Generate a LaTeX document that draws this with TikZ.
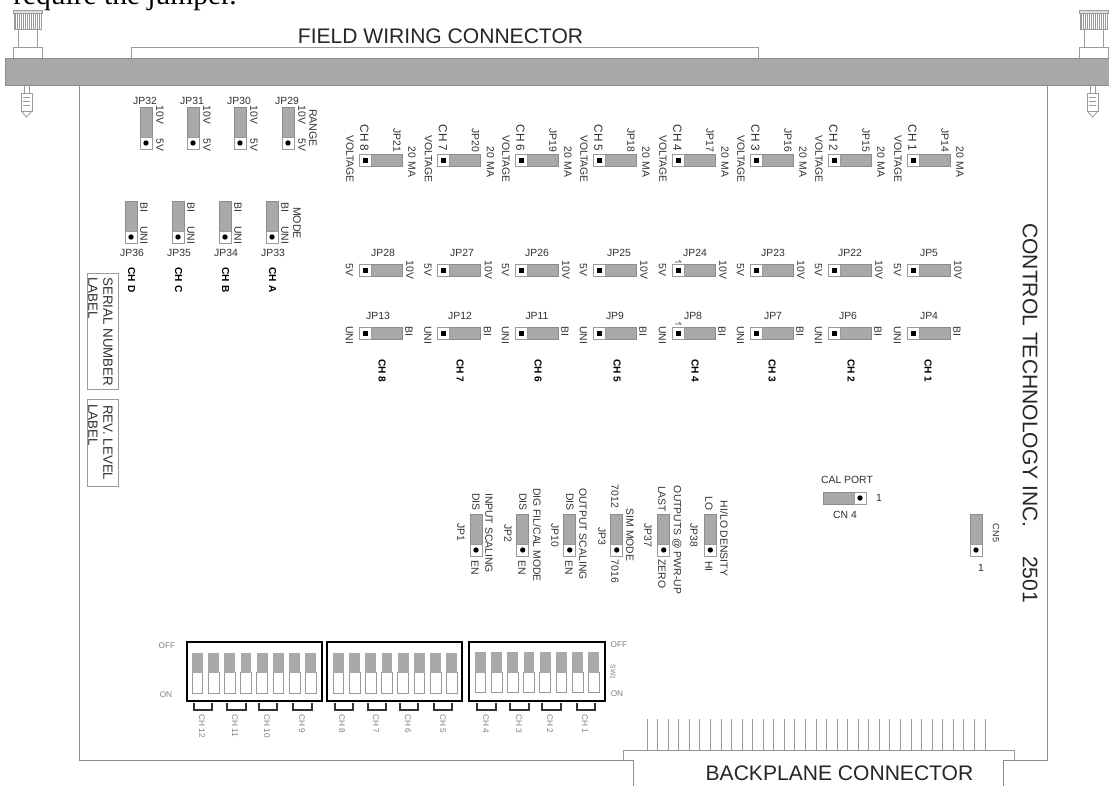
\documentclass[tikz,border=0pt]{standalone}
\usepackage{fontspec}
\setmainfont{Liberation Sans}
\newfontfamily\serifface{Liberation Serif}
\definecolor{bargray}{HTML}{A8A8A8}
\definecolor{jgray}{HTML}{A9A9A9}
\definecolor{edgegray}{HTML}{8C8C8C}
\definecolor{linegray}{HTML}{9A9A9A}
\definecolor{inkdark}{HTML}{303030}
\definecolor{faint}{HTML}{808080}
\tikzset{
  lab/.style={font=\fontsize{7.8}{8}\selectfont,text=inkdark,inner sep=0pt},
  rlab/.style={lab,rotate=-90},
  chlab/.style={lab,font=\fontsize{8.8}{9}\selectfont},
  chbold/.style={rlab,font=\fontsize{7.6}{8}\bfseries\selectfont,text=black},
  big/.style={font=\fontsize{15.8}{16}\selectfont,text=black!85,inner sep=0pt},
  midlab/.style={rlab,font=\fontsize{10}{10.5}\selectfont,align=left},
  diptext/.style={inner sep=0pt,text=faint,font=\fontsize{6.2}{7}\selectfont},
  board/.style={draw=edgegray,line width=0.7pt},
  thin/.style={draw=linegray,line width=0.6pt},
  jfill/.style={fill=jgray,draw=edgegray,line width=0.5pt},
  jwhite/.style={fill=white,draw=linegray,line width=0.6pt},
  dip/.style={draw=black,line width=1.8pt,fill=white},
  bracketline/.style={draw=black!80,line width=0.9pt}
}
% horizontal jumper with square pin at the left
\newcommand{\hjump}[2]{%
  \path[jfill] (#1,#2) rectangle (#1+43,#2+12);
  \path[jwhite] (#1,#2) rectangle (#1+12,#2+12);
  \fill[black] (#1+3.5,#2+3.5) rectangle (#1+8.5,#2+8.5);}
% vertical jumper with round pin at the bottom
\newcommand{\vjump}[3]{%
  \path[jfill] (#1,#2) rectangle (#1+12,#2+#3);
  \path[jwhite] (#1,#2+#3-12) rectangle (#1+12,#2+#3);
  \fill[black] (#1+6,#2+#3-6) circle (2pt);}
\newcommand{\thumbscrew}[1]{%
  \begin{scope}[shift={(#1,0)}]
    \path[thin] (13,47) rectangle (42,58);
    \path[thin] (18,29) -- (18,47) (37,29) -- (37,47);
    \path[draw=linegray,line width=0.5pt,fill=black!12] (13,10) rectangle (42,13);
    \path[draw=linegray,line width=0.5pt,fill=white] (14,13) rectangle (41,29);
    \foreach \h in {15,17,...,39} {\draw[linegray,line width=0.5pt] (\h,13) -- (\h,29);}
    \path[thin] (24,85) -- (24,93) (29,85) -- (29,93);
    \path[thin] (21,93) rectangle (32,111);
    \path[thin] (21,111) -- (26.5,117) -- (32,111);
    \foreach \h in {97,101,105} {\draw[linegray,line width=0.5pt] (23,\h) -- (30,\h);}
  \end{scope}}
\begin{document}
\begin{tikzpicture}[x=0.75pt,y=-0.75pt]
\clip (0,0) rectangle (1109,786);
\fill[white] (0,0) rectangle (1109,786);

% clipped sentence at the very top
\node[anchor=base west,inner sep=0pt,font=\serifface\fontsize{22.1}{24}\selectfont,text=black] (topline) at (13,4.5) {require the jumper.};

% board outline
\path[board] (79,85) -- (79,760) -- (633,760) -- (633,786);
\path[board] (1047,85) -- (1047,760) -- (1003,760) -- (1003,786);

% connectors
\path[thin] (131,58) -- (131,47) -- (758,47) -- (758,58);
\node[big] (fieldlabel) at (440.5,36) {FIELD WIRING CONNECTOR};
\path[thin,fill=white] (623,760) -- (623,750) -- (1014,750) -- (1014,760);
\foreach \n in {0,...,32} {\draw[linegray,line width=0.6pt] (647+\n*10.56,719) -- (647+\n*10.56,750);}
\node[big] (backlabel) at (839.5,773) {BACKPLANE CONNECTOR};

% top bar and thumbscrews
\thumbscrew{0}
\thumbscrew{1066}
\path[fill=bargray,draw=edgegray,line width=0.5pt] (5,58) rectangle (1112,85);

% company label
\node[big,rotate=-90,anchor=west] (company) at (1030,223) {CONTROL TECHNOLOGY INC.};
\node[big,rotate=-90,anchor=west] (model) at (1030,556) {2501};

% range jumpers
\foreach \x/\j in {140/32,187/31,234/30,282/29} {
  \vjump{\x}{107}{42}
  \node[lab] at (\x+5,101) {JP\j};
  \node[rlab] at (\x+20,115) {10V};
  \node[rlab] at (\x+20,145) {5V};
}
\node[midlab,font=\fontsize{8}{8.5}\selectfont] (rangelabel) at (313,128) {RANGE};

% mode jumpers
\foreach \x/\j/\c in {125/36/D,172/35/C,219/34/B,266/33/A} {
  \vjump{\x}{201}{42}
  \node[lab] at (\x+7,253) {JP\j};
  \node[rlab] at (\x+19,207) {BI};
  \node[rlab] at (\x+19,235) {UNI};
  \node[chbold] at (\x+6.5,280) {CH \c};
}
\node[midlab,font=\fontsize{8}{8.5}\selectfont] (modelabel) at (297,223) {MODE};

% label boxes
\path[thin] (87,273) rectangle (118,389);
\node[midlab,anchor=west] (serial) at (108,277) {SERIAL NUMBER};
\node[midlab,anchor=west] (seriallab) at (93,277) {LABEL};
\path[thin] (87,399) rectangle (118,486);
\node[midlab,anchor=west] (rev) at (108,405) {REV. LEVEL};
\node[midlab,anchor=west] (revlab) at (93,404) {LABEL};

% current/voltage jumpers
\foreach \x/\c/\j in {359/8/21,437.5/7/20,515/6/19,593/5/18,672/4/17,750/3/16,828/2/15,907/1/14} {
  \hjump{\x}{154}
  \node[chlab,rotate=-90] at (\x+5.5,138) {CH \c};
  \node[rlab] at (\x-9,159) {VOLTAGE};
  \node[rlab] at (\x+38,140) {JP\j};
  \node[rlab] at (\x+53,162) {20 MA};
}
% 5V/10V jumpers
\foreach \x/\j/\l in {359/28/383,437.5/27/462,515/26/537,593/25/619,672/24/695,750/23/773,828/22/850,907/5/929} {
  \hjump{\x}{264}
  \node[lab] at (\l,253) {JP\j};
  \node[rlab] at (\x-9.5,270) {5V};
  \node[rlab] at (\x+51,270) {10V};
}
% UNI/BI jumpers
\foreach \x/\j/\l/\c/\k in {359/13/378/8/382,437.5/12/460/7/460,515/11/537/6/538,593/9/615/5/617,672/8/693/4/695,750/7/773/3/772,828/6/848/2/851,907/4/929/1/928} {
  \hjump{\x}{327}
  \node[lab] at (\l,316) {JP\j};
  \node[rlab] at (\x-9.5,335) {UNI};
  \node[rlab] at (\x+50,331) {BI};
  \node[chbold] at (\k,371) {CH \c};
}
% pin-1 marks
\draw[black!70,line width=0.5pt] (675,262) -- (681,262) -- (679,260);
\draw[black!70,line width=0.5pt] (675,324) -- (681,324) -- (679,322);

% option jumpers
\foreach \x in {470,516.7,563.7,610.7,657.7,704.3} {\vjump{\x}{514}{42}}
\node[rlab] at (476,502) {DIS};
\node[rlab] at (523,502) {DIS};
\node[rlab] at (570,502) {DIS};
\node[rlab] at (475,568) {EN};
\node[rlab] at (522,568) {EN};
\node[rlab] at (569,568) {EN};
\node[rlab] at (461,532.5) {JP1};
\node[rlab] at (508,533) {JP2};
\node[rlab] at (555,535.5) {JP10};
\node[rlab] at (602,536.5) {JP3};
\node[rlab] at (648,535.5) {JP37};
\node[rlab] at (694,535.5) {JP38};
\node[rlab] at (489,533) {INPUT SCALING};
\node[rlab] at (537,535) {DIG FIL/CAL MODE};
\node[rlab] at (583,534) {OUTPUT SCALING};
\node[rlab] at (615,496.5) {7012};
\node[rlab] at (630,535) {SIM MODE};
\node[rlab] at (615,571.5) {7016};
\node[rlab] at (662,499) {LAST};
\node[rlab] at (662,574) {ZERO};
\node[rlab] at (677,540) {OUTPUTS @ PWR-UP};
\node[rlab] at (709,503.5) {LO};
\node[rlab] at (709,566.5) {HI};
\node[rlab] at (724,538.5) {HI/LO DENSITY};

% CN4, CN5
\path[jfill] (823,492) rectangle (866,504);
\path[jwhite] (854,492) rectangle (866,504);
\fill[black] (860,498) circle (2pt);
\node[lab] (calport) at (847,480) {CAL PORT};
\node[lab] (cnfour) at (845,515) {CN 4};
\node[lab] (pinone) at (879,498) {1};
\vjump{970}{514}{42}
\node[rlab,font=\fontsize{6.8}{7}\selectfont] (cnfive) at (996,533) {CN5};
\node[lab] (pinonev) at (981,568) {1};

% DIP switches
\path[dip] (187,642) rectangle (322,701);
\path[dip] (327,642) rectangle (462,701);
\path[dip] (469,642) rectangle (605,701);
\foreach \s/\t in {192/652.5,333/652.5,475/652} {
  \foreach \n in {0,...,7} {
    \path[jwhite,line width=0.5pt] (\s+\n*16.2,\t+20) rectangle (\s+\n*16.2+10.7,\t+40.5);
    \fill[jgray] (\s+\n*16.2,\t) rectangle (\s+\n*16.2+10.7,\t+20.5);
  }
}
\node[diptext] (offl) at (167,646) {OFF};
\node[diptext] (onl) at (166,695) {ON};
\node[diptext] (offr) at (619,645) {OFF};
\node[diptext] (onr) at (617,694) {ON};
\node[diptext,rotate=-90,font=\fontsize{5.2}{6}\selectfont] (swone) at (613,672) {SW1};
\foreach \a/\b/\l/\c in {194/212/202/12,227/246/235/11,259/277/267/10,293/312/302/9,335/353/342/8,368/386/376/7,400/418/408/6,434/452/443/5,477/496/486/4,510/529/519/3,542/561/550/2,577/595/585/1} {
  \path[bracketline] (\a,703) -- (\a,710) -- (\b,710) -- (\b,703);
  \node[diptext,rotate=-90,anchor=west] at (\l,714) {CH \c};
}
\end{tikzpicture}
\end{document}
